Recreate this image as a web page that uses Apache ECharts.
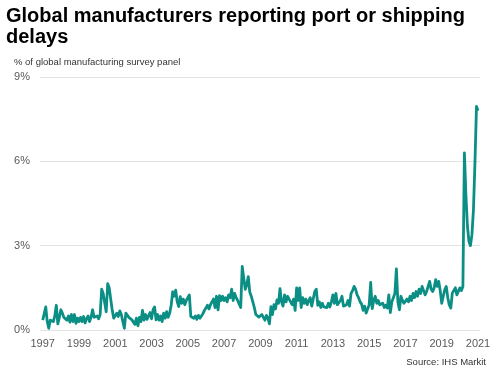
<!DOCTYPE html>
<html>
<head>
<meta charset="utf-8">
<script src="https://cdn.jsdelivr.net/npm/echarts@6/dist/echarts.min.js"></script>
<style>html,body{margin:0;padding:0;background:#fff}#c{width:499px;height:376px}</style>
</head>
<body>
<div id="c"></div>
<script>
var titleText = 'Global manufacturers reporting port or shipping\ndelays';
var subtitleText = '% of global manufacturing survey panel';
var sourceText = 'Source: IHS Markit';
var startYear = 1997;
var yearLabels = [1997, 1999, 2001, 2003, 2005, 2007, 2009, 2011, 2013, 2015, 2017, 2019, 2021];
var yTicks = [0, 3, 6, 9];
// monthly values, Jan 1997 - Jan 2021 (% of panel)
var values = [
  0.35, 0.4, 0.82, 0.3, 0.06, 0.35, 0.42, 0.3, 0.5, 0.88, 0.22, 0.45,
  0.72, 0.6, 0.45, 0.52, 0.35, 0.5, 0.28, 0.55, 0.3, 0.55, 0.24, 0.42,
  0.3, 0.45, 0.3, 0.48, 0.25, 0.4, 0.5, 0.3, 0.45, 0.72, 0.45, 0.52,
  0.5, 0.4, 0.55, 1.45, 1.3, 1.35, 0.65, 1.65, 1.5, 1.1, 0.7, 0.42,
  0.45, 0.6, 0.48, 0.68, 0.55, 0.3, 0.06, 0.6, 0.65, 0.45, 0.4, 0.36,
  0.3, 0.2, 0.42, 0.15, 0.45, 0.3, 0.7, 0.35, 0.55, 0.38, 0.5, 0.62,
  0.4, 0.72, 0.82, 0.36, 0.55, 0.35, 0.5, 0.3, 0.6, 0.42, 0.65, 0.45,
  0.6, 0.89, 1.36, 1.2, 1.42, 1.0, 0.83, 1.19, 0.95, 1.1, 0.9, 1.05,
  1.0, 1.25, 0.48, 0.55, 0.42, 0.5, 0.38, 0.52, 0.42, 0.5, 0.58, 0.7,
  0.78, 0.88, 0.75, 0.9, 0.95, 1.1, 0.8, 1.2, 0.72, 1.22, 1.05, 1.2,
  1.05, 1.15, 1.0, 1.25, 1.15, 1.45, 1.05, 1.3, 1.15, 1.05, 0.92, 0.8,
  2.26, 1.85, 1.45, 1.6, 1.9, 1.35, 1.2, 1.0, 0.8, 0.55, 0.5, 0.46,
  0.4, 0.55, 0.45, 0.35, 0.52, 0.42, 0.22, 0.83, 0.55, 0.9, 0.75, 1.07,
  0.95, 1.47, 1.0, 0.85, 1.25, 1.0, 1.2, 1.1, 1.15, 0.9, 1.1, 0.7,
  1.5, 1.05, 1.5, 0.8, 1.15, 0.95, 1.1, 0.9, 1.05, 1.15, 0.85, 0.8,
  1.37, 1.45, 0.88, 1.0, 0.8, 0.95, 0.82, 0.88, 0.8, 0.95, 0.82, 1.0,
  1.25, 0.95, 1.3, 0.9, 0.83, 1.05, 1.2, 0.85, 0.83, 0.9, 1.05, 0.85,
  1.3, 1.4, 1.55, 1.45, 1.25, 1.15, 1.0, 0.92, 0.7, 0.85, 0.6, 0.53,
  0.9, 1.69, 0.76, 1.05, 1.2, 0.95, 1.05, 0.9, 0.85, 0.95, 0.8, 0.88,
  0.78, 1.25, 0.62, 1.0, 0.95, 1.3, 2.17, 1.0, 0.72, 1.2, 1.05, 0.95,
  0.95, 1.1, 1.0, 1.2, 1.05, 1.3, 1.15, 1.37, 1.2, 1.45, 1.3, 1.55,
  1.4, 1.25, 1.37, 1.55, 1.73, 1.45, 1.37, 1.5, 1.79, 1.55, 1.73, 1.4,
  0.95, 1.2, 1.43, 1.55, 1.15, 0.89, 0.78, 1.31, 1.35, 1.5, 1.25, 1.3,
  1.5, 1.4, 1.55, 6.3, 4.8, 3.7, 3.15, 3.0, 3.4, 4.3, 6.0, 7.95,
  7.8
];

var seriesData = values.map(function (v, i) { return [startYear + i / 12, v]; });

var chart = echarts.init(document.getElementById('c'), null, {renderer: 'canvas'});
chart.setOption({
  animation: false,
  backgroundColor: '#ffffff',
  title: [
    {text: titleText, left: 6, top: 6, padding: 0,
     textStyle: {fontFamily: 'Liberation Sans, Arial, sans-serif', fontSize: 20, fontWeight: 'bold', color: '#000', lineHeight: 21}},
    {text: subtitleText, left: 14, top: 57, padding: 0,
     textStyle: {fontFamily: 'Liberation Sans, Arial, sans-serif', fontSize: 9.5, fontWeight: 'normal', color: '#333'}},
    {text: sourceText, right: 13, top: 357, padding: 0,
     textStyle: {fontFamily: 'Liberation Sans, Arial, sans-serif', fontSize: 9.5, fontWeight: 'normal', color: '#333'}}
  ],
  grid: {left: 40, right: 19, top: 77, height: 253, containLabel: false},
  xAxis: {
    type: 'value', min: 1996.85, max: 2021.11,
    axisLine: {show: false}, axisTick: {show: false}, splitLine: {show: false},
    axisLabel: {customValues: yearLabels, margin: 8, color: '#595959', fontSize: 11,
      fontFamily: 'Liberation Sans, Arial, sans-serif',
      formatter: function (v) { return String(Math.round(v)); }}
  },
  yAxis: {
    type: 'value', min: yTicks[0], max: yTicks[yTicks.length - 1], interval: 3,
    axisLine: {show: false}, axisTick: {show: false},
    splitLine: {lineStyle: {color: '#e3e3e3', width: 1}},
    axisLabel: {formatter: '{value}%', margin: 10, color: '#595959', fontSize: 11,
      fontFamily: 'Liberation Sans, Arial, sans-serif'}
  },
  series: [{
    type: 'line', data: seriesData, showSymbol: false, symbol: 'none',
    lineStyle: {color: '#0b8f85', width: 2.8, join: 'round'}
  }]
});
</script>
</body>
</html>
